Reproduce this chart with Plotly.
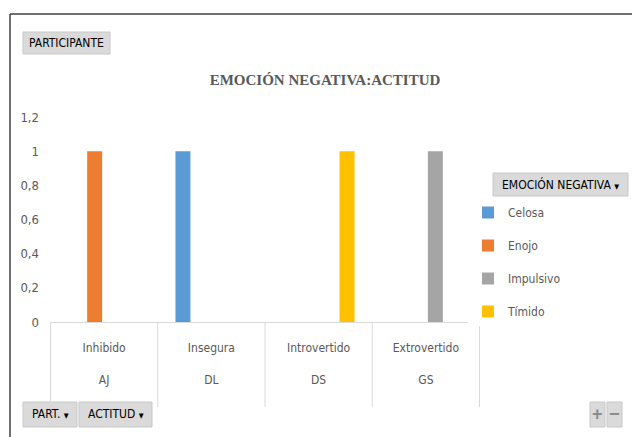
import plotly.graph_objects as go

# ---- data ----
participantes = ["AJ", "DL", "DS", "GS"]
actitudes = ["Inhibido", "Insegura", "Introvertido", "Extrovertido"]
series_names = ["Celosa", "Enojo", "Impulsivo", "Tímido"]
celosa = [None, 1, None, None]
enojo = [1, None, None, None]
impulsivo = [None, None, None, 1]
timido = [None, None, 1, None]
y_ticks = [0, 0.2, 0.4, 0.6, 0.8, 1, 1.2]
colors = ["#5B9BD5", "#ED7D31", "#A5A5A5", "#FFC000"]

W, H = 632, 437
L, R, T, B = 50, 480, 117, 322  # plot area in px

def px(x):
    return (x - L) / (R - L)

def py(y):
    return (B - y) / (B - T)

NARROW = "Liberation Sans Narrow, DejaVu Sans Condensed, Liberation Sans, sans-serif"
cats = [f"{a}<br><br>{p}" for a, p in zip(actitudes, participantes)]

fig = go.Figure()
for name, vals, col in zip(series_names, [celosa, enojo, impulsivo, timido], colors):
    fig.add_trace(go.Bar(x=cats, y=vals, name=name, marker_color=col,
                         marker_line_width=0, legendgroup=name))

fig.update_layout(
    width=W, height=H,
    margin=dict(l=L, r=W - R, t=T, b=H - B, pad=0),
    paper_bgcolor="white", plot_bgcolor="white",
    barmode="group", bargap=0.293, bargroupgap=0.21,
    separators=", ",
    font=dict(family=NARROW, size=12, color="#595959"),
    title=dict(text="<b>EMOCIÓN NEGATIVA:ACTITUD</b>", x=325 / W, xanchor="center",
               y=1 - 80 / H, yanchor="middle",
               font=dict(family="Liberation Serif, Times New Roman, serif", size=15, color="#595959")),
    showlegend=True,
    legend=dict(x=px(468), xanchor="left", y=py(198), yanchor="top",
                tracegroupgap=14, itemwidth=30,
                font=dict(family=NARROW, size=12, color="#595959"),
                itemclick=False, itemdoubleclick=False),
    xaxis=dict(type="category", showgrid=False, showline=True, linecolor="#D9D9D9",
               linewidth=1, ticks="", ticklabelstandoff=15,
               tickfont=dict(family=NARROW, size=12, color="#595959"), fixedrange=True),
    yaxis=dict(range=[0, 1.2], tickvals=y_ticks, showgrid=False, zeroline=False,
               showline=False, ticks="", ticklabelstandoff=10,
               tickfont=dict(family=NARROW, size=13, color="#595959"), fixedrange=True),
)

shapes = []
# outer chart border (top and left)
shapes.append(dict(type="line", xref="paper", yref="paper", x0=px(10), x1=px(632),
                   y0=py(14), y1=py(14), line=dict(color="#404040", width=1.5)))
shapes.append(dict(type="line", xref="paper", yref="paper", x0=px(10), x1=px(10),
                   y0=py(14), y1=py(437), line=dict(color="#404040", width=1.5)))
# category dividers
for i in range(len(actitudes) + 1):
    shapes.append(dict(type="line", xref="x", yref="paper", x0=i - 0.5, x1=i - 0.5,
                       y0=py(322), y1=py(407), line=dict(color="#D9D9D9", width=1)))

# buttons
def button(x0, x1, y0, y1):
    shapes.append(dict(type="rect", xref="paper", yref="paper", x0=px(x0), x1=px(x1),
                       y0=py(y1), y1=py(y0), fillcolor="#DADADA",
                       line=dict(color="#C8C8C8", width=1), layer="below"))

button(23, 110, 32, 54)
button(23, 77, 402, 427)
button(79, 152, 402, 427)
button(493, 628, 173, 196)
button(590, 605, 402, 427)
button(607, 622, 402, 427)
fig.update_layout(shapes=shapes)

annots = [
    dict(text="PARTICIPANTE", x=px(66.5), y=py(43)),
    dict(text="PART. <span style='font-size:7px'>▼</span>", x=px(50), y=py(414)),
    dict(text="ACTITUD <span style='font-size:7px'>▼</span>", x=px(115.5), y=py(414)),
    dict(text="EMOCIÓN NEGATIVA <span style='font-size:7px'>▼</span>", x=px(560), y=py(184)),
]
for a in annots:
    fig.add_annotation(xref="paper", yref="paper", xanchor="center", yanchor="middle",
                       showarrow=False, font=dict(family=NARROW, size=12, color="#000000"), **a)
fig.add_annotation(xref="paper", yref="paper", x=px(597.5), y=py(414), text="<b>+</b>",
                   xanchor="center", yanchor="middle",
                   showarrow=False, font=dict(family="Liberation Sans", size=18, color="#8C8C8C"))
fig.add_annotation(xref="paper", yref="paper", x=px(614.5), y=py(414), text="<b>−</b>",
                   xanchor="center", yanchor="middle",
                   showarrow=False, font=dict(family="Liberation Sans", size=18, color="#8C8C8C"))

fig.write_html("out.html", config={"displayModeBar": False},
               post_script="document.body.style.margin='0px';")
